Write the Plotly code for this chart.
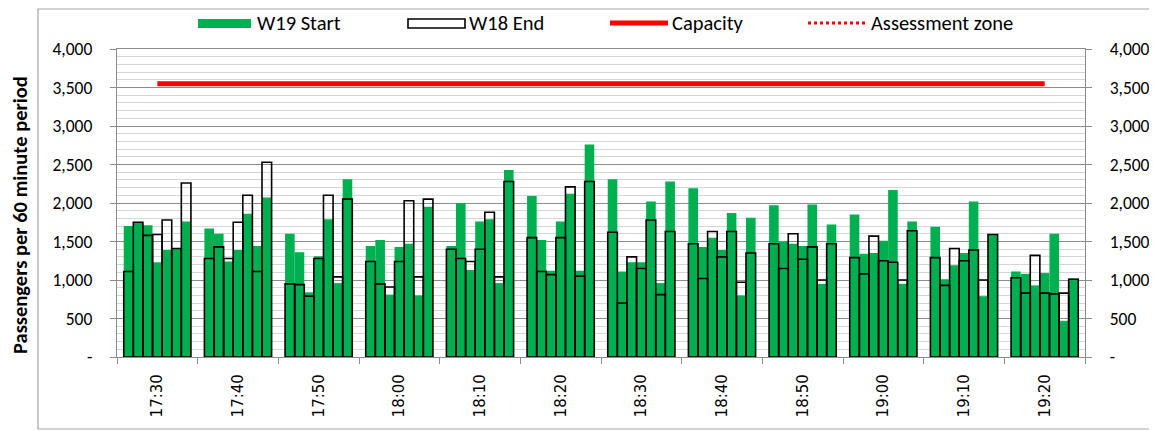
import plotly.graph_objects as go

# ---------------- data ----------------
time_labels = ["17:30", "17:40", "17:50", "18:00", "18:10", "18:20",
               "18:30", "18:40", "18:50", "19:00", "19:10", "19:20"]
bars_per_group = 7

w19_start = [
    1700, 1750, 1710, 1230, 1390, 1410, 1760,
    1670, 1600, 1240, 1390, 1860, 1440, 2070,
    1600, 1360, 840, 1310, 1790, 960, 2310,
    1440, 1520, 810, 1430, 1470, 800, 1950,
    1440, 2000, 1130, 1760, 1790, 960, 2430,
    2090, 1520, 1120, 1760, 2120, 1120, 2760,
    2310, 1110, 1230, 1230, 2020, 960, 2280,
    2190, 1430, 1550, 1390, 1870, 800, 1810,
    1970, 1500, 1470, 1440, 1980, 950, 1720,
    1850, 1340, 1350, 1510, 2170, 950, 1760,
    1690, 1010, 1190, 1350, 2020, 790, 1590,
    1110, 1080, 930, 1090, 1600, 470, 1020,
]

w18_end = [
    1110, 1750, 1580, 1590, 1780, 1410, 2260,
    1280, 1430, 1280, 1750, 2100, 1110, 2530,
    950, 940, 790, 1280, 2100, 1040, 2050,
    1240, 950, 910, 1240, 2030, 1040, 2050,
    1400, 1280, 1240, 1400, 1880, 1040, 2280,
    1550, 1110, 1070, 1550, 2210, 1050, 2280,
    1620, 700, 1300, 1150, 1780, 810, 1630,
    1470, 1020, 1630, 1300, 1630, 970, 1350,
    1470, 1150, 1600, 1270, 1430, 1000, 1470,
    1290, 1080, 1570, 1250, 1230, 1000, 1640,
    1290, 930, 1410, 1250, 1390, 1000, 1590,
    1030, 830, 1320, 830, 820, 830, 1010,
]

capacity_value = 3550
y_tick_vals = [0, 500, 1000, 1500, 2000, 2500, 3000, 3500, 4000]
y_tick_text = ["-", "500", "1,000", "1,500", "2,000", "2,500", "3,000", "3,500", "4,000"]

# ---------------- geometry helpers ----------------
n_groups = len(time_labels)
bar_w = 0.119
edge = (1 - bar_w * bars_per_group) / 2
bar_x = [g + edge + (k + 0.5) * bar_w
         for g in range(n_groups) for k in range(bars_per_group)]
group_centers = [g + 0.5 for g in range(n_groups)]

OFF = 8  # page body margin
W, H = 1157 - OFF, 431 - OFF
PL, PR, PT, PB = 117, 1085, 49, 357  # plot area in page pixels
ML, MT = PL - OFF, PT - OFF
MR, MB = W - (PR - OFF), H - (PB - OFF)
PW, PH = PR - PL, PB - PT


def xp(px):
    return (px - PL) / PW


def yp(py):
    return (PB - py) / PH


FONT = "Carlito, Lato, 'Liberation Sans', sans-serif"
GREEN = "#00B050"
AXC = "#8c8c8c"

fig = go.Figure()
fig.add_trace(go.Bar(x=bar_x, y=w19_start, width=bar_w, name="W19 Start",
                     marker=dict(color=GREEN, line=dict(width=0)),
                     showlegend=False))
fig.add_trace(go.Bar(x=bar_x, y=w18_end, width=bar_w, name="W18 End",
                     marker=dict(color="rgba(0,0,0,0)",
                                 line=dict(color="#000000", width=1.6)),
                     showlegend=False))
fig.add_trace(go.Scatter(x=group_centers, y=[capacity_value] * n_groups,
                         mode="lines", name="Capacity",
                         line=dict(color="#FF0000", width=5),
                         showlegend=False))
# dummy trace to attach the right axis
fig.add_trace(go.Scatter(x=[group_centers[0]], y=[capacity_value], yaxis="y2",
                         mode="lines", showlegend=False, hoverinfo="skip",
                         line=dict(color="rgba(0,0,0,0)")))

fig.update_layout(
    template="none",
    width=W, height=H,
    margin=dict(l=ML, r=MR, t=MT, b=MB, autoexpand=False),
    paper_bgcolor="white", plot_bgcolor="white",
    barmode="overlay",
    font=dict(family=FONT, size=17.5, color="#000000"),
    xaxis=dict(
        automargin=False,
        range=[0, n_groups],
        tickmode="array", tickvals=group_centers, ticktext=time_labels,
        ticks="", tickangle=-90, ticklabelstandoff=10,
        tickfont=dict(family="'DejaVu Sans', sans-serif", size=15),
        showgrid=False, zeroline=False,
        showline=True, linecolor=AXC, linewidth=1.3, mirror=True,
        minor=dict(tickmode="array", tickvals=list(range(n_groups + 1)),
                   ticks="outside", ticklen=6, tickcolor=AXC,
                   tickwidth=1.3, showgrid=False),
    ),
    yaxis=dict(
        automargin=False,
        range=[0, 4000],
        tickmode="array", tickvals=y_tick_vals, ticktext=y_tick_text,
        ticks="outside", ticklen=6, tickcolor=AXC, tickwidth=1.3,
        ticklabelstandoff=14,
        showgrid=True, gridcolor=AXC, gridwidth=1.3,
        zeroline=False,
        showline=True, linecolor=AXC, linewidth=1.3,
        minor=dict(tickmode="linear", tick0=0, dtick=100, showgrid=True,
                   gridcolor="#d6d6d6", gridwidth=1.4, ticks=""),
    ),
    yaxis2=dict(
        automargin=False,
        range=[0, 4000], overlaying="y", side="right",
        tickmode="array", tickvals=y_tick_vals, ticktext=y_tick_text,
        ticks="outside", ticklen=6, tickcolor=AXC, tickwidth=1.3,
        ticklabelstandoff=14,
        showgrid=False, zeroline=False,
        showline=True, linecolor=AXC, linewidth=1.3,
    ),
)

shapes = []
ann = []
# outer chart border
shapes.append(dict(type="rect", xref="paper", yref="paper",
                   x0=xp(38), x1=xp(1175), y0=yp(429), y1=yp(9),
                   line=dict(color="#a6a6a6", width=1.2), fillcolor="rgba(0,0,0,0)",
                   layer="below"))
# legend
ly0, ly1, lyc = yp(28), yp(19), yp(23)
shapes.append(dict(type="rect", xref="paper", yref="paper",
                   x0=xp(198), x1=xp(251), y0=ly0, y1=ly1,
                   fillcolor=GREEN, line=dict(width=0)))
shapes.append(dict(type="rect", xref="paper", yref="paper",
                   x0=xp(408), x1=xp(465), y0=ly0, y1=ly1,
                   fillcolor="white", line=dict(color="#000000", width=1.6)))
shapes.append(dict(type="line", xref="paper", yref="paper",
                   x0=xp(610), x1=xp(668), y0=lyc, y1=lyc,
                   line=dict(color="#FF0000", width=5)))
shapes.append(dict(type="line", xref="paper", yref="paper",
                   x0=xp(808), x1=xp(865), y0=lyc, y1=lyc,
                   line=dict(color="#FF0000", width=3, dash="dot")))
legend_items = [("W19 Start", 255), ("W18 End", 467),
                ("Capacity", 670), ("Assessment zone", 869)]
for txt, px in legend_items:
    ann.append(dict(text=txt, xref="paper", yref="paper", x=xp(px), y=lyc,
                    xanchor="left", yanchor="middle", showarrow=False,
                    font=dict(family=FONT, size=20.5, color="#000000")))
# y axis title
ann.append(dict(text="<b>Passengers per 60 minute period</b>", xref="paper", yref="paper",
                x=xp(20), y=yp(215), textangle=-90, showarrow=False,
                xanchor="center", yanchor="middle",
                font=dict(family=FONT, size=20.5, color="#000000")))

fig.update_layout(shapes=shapes, annotations=ann)
fig.write_html("out.html")
